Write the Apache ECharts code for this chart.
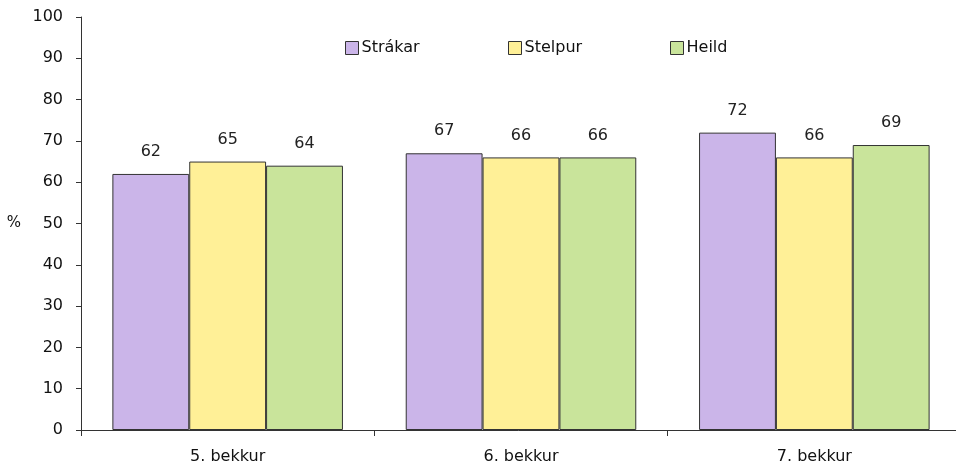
<!DOCTYPE html>
<html>
<head>
<meta charset="utf-8">
<script src="https://cdn.jsdelivr.net/npm/echarts@6/dist/echarts.min.js"></script>
<style>
    html, body { margin: 0; padding: 0; background: #fff; }
    #chart { width: 956px; height: 465px; }
</style>
</head>
<body>
<div id="chart"></div>
<script>
var categories = ['5. bekkur', '6. bekkur', '7. bekkur'];
var seriesNames = ['Strákar', 'Stelpur', 'Heild'];
var strakar = [62, 67, 72];
var stelpur = [65, 66, 66];
var heild = [64, 66, 69];
var colors = ['#cbb5e9', '#fff097', '#c9e49b'];
var fontFamily = '"DejaVu Sans", Verdana, sans-serif';

function makeSeries(name, data, color) {
    return {
        name: name,
        type: 'bar',
        data: data,
        barGap: '0%',
        barCategoryGap: '21.4%',
        itemStyle: {
            color: color,
            borderColor: '#333',
            borderWidth: 1
        },
        label: {
            show: true,
            position: 'top',
            distance: 14,
            color: '#222',
            fontSize: 16,
            fontFamily: fontFamily
        }
    };
}

function legendAt(left, name) {
    return {
        left: left,
        top: 35,
        data: [name],
        icon: 'rect',
        itemWidth: 13,
        itemHeight: 13,
        itemGap: 0,
        textStyle: { fontSize: 16, color: '#111', fontFamily: fontFamily, padding: [0, 0, 0, -2] },
        itemStyle: { borderColor: '#333', borderWidth: 1 }
    };
}

var chart = echarts.init(document.getElementById('chart'));
var option = {
    animation: false,
    textStyle: { fontFamily: fontFamily },
    legend: [
        legendAt(340, seriesNames[0]),
        legendAt(503, seriesNames[1]),
        legendAt(665, seriesNames[2])
    ],
    grid: {
        left: 81,
        top: 17,
        width: 880,
        bottom: 35,
        containLabel: false,
        outerBoundsMode: 'none'
    },
    xAxis: {
        type: 'category',
        data: categories,
        axisLine: { lineStyle: { color: '#333', width: 1 } },
        axisTick: { show: true, length: 6, lineStyle: { color: '#333' } },
        axisLabel: { color: '#111', fontSize: 16, margin: 19, fontFamily: fontFamily }
    },
    yAxis: {
        type: 'value',
        min: 0,
        max: 100,
        interval: 10,
        name: '%',
        nameLocation: 'middle',
        nameRotate: 0,
        nameGap: 60,
        nameTextStyle: { color: '#111', fontSize: 15, fontFamily: fontFamily },
        axisLine: { show: true, lineStyle: { color: '#333', width: 1 } },
        axisTick: { show: true, length: 5, inside: false, lineStyle: { color: '#333' } },
        axisLabel: { color: '#111', fontSize: 16, margin: 18, fontFamily: fontFamily },
        splitLine: { show: false }
    },
    series: [
        makeSeries(seriesNames[0], strakar, colors[0]),
        makeSeries(seriesNames[1], stelpur, colors[1]),
        makeSeries(seriesNames[2], heild, colors[2])
    ]
};
chart.setOption(option);
</script>
</body>
</html>
